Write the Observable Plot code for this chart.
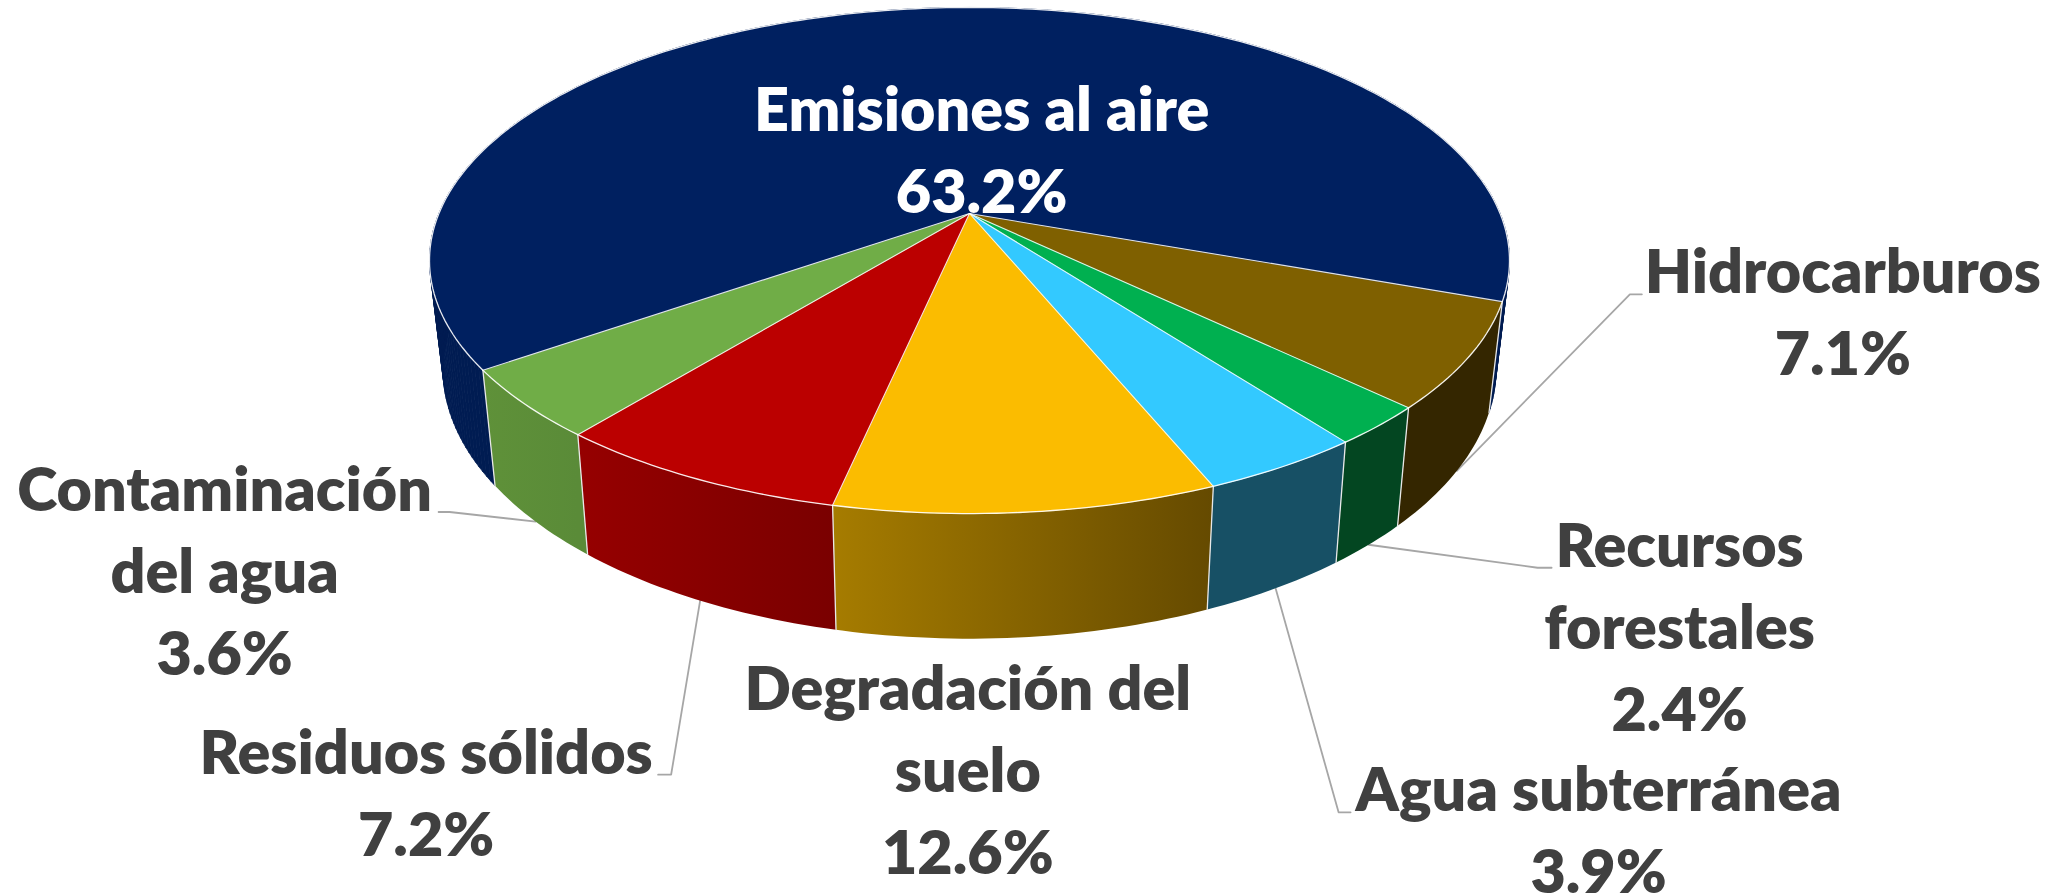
<!DOCTYPE html>
<html lang="es">
<head>
<meta charset="utf-8">
<style>html,body{margin:0;padding:0;background:#fff;overflow:hidden}svg{display:block}</style>
<script src="https://cdn.jsdelivr.net/npm/d3@7"></script>
<script src="https://cdn.jsdelivr.net/npm/@observablehq/plot@0.6"></script>
</head>
<body>
<div id="chart"></div>
<script>
// Category order runs clockwise from the right-hand edge of the dark-blue slice
const categories = ["Hidrocarburos", "Recursos forestales", "Agua subterránea", "Degradación del suelo", "Residuos sólidos", "Contaminación del agua", "Emisiones al aire"];
// Printed percentages
const printedValues = [7.1, 2.4, 3.9, 12.6, 7.2, 3.6, 63.2];
// Shares as actually drawn (the yellow slice is drawn narrower than printed)
const drawnShares = [6.7, 2.5, 4.1, 9.6, 7.5, 4.4, 65.2];
const labelLines = [["Hidrocarburos"], ["Recursos", "forestales"], ["Agua subterránea"], ["Degradación del", "suelo"], ["Residuos sólidos"], ["Contaminación", "del agua"], ["Emisiones al aire"]];
const topColors = ["#7f6000", "#00b050", "#33c9ff", "#fbbc00", "#bb0000", "#70ad47", "#002060"];
const wallRight = ["#342600", "#034621", "#175065", "#654a00", "#7a0000", "#5a8b38", "#001c52"];
const wallLeft = ["#342600", "#034621", "#175065", "#a67c00", "#960000", "#5f9139", "#001c52"];

// Layout options (pie perspective and label placement relative to each slice's rim)
const W = 2062, H = 896;
const startAngle = 19.75;
const pie = {cx: 969, cy: 213, a: 530.6, b: 244.3, k: 0.1858, sx: 0.975, sy: 1.067, cyBottom: 318};
const fontSize = 61, lineStep = 82;
const labelOffset = [[386, -177.5], [311, 22], [323, 223], [-58, 73], [-274, 173], [-311, -10.6], [70, 31]];
// Leader elbow: distances from the label's centre along its first baseline (far end, near end)
const stub = [[-201, -213], [-128, -142], [-248, -260], null, [232, 245], [214, 225], null];

const rad = d => d * Math.PI / 180;
function rim(theta, bottom) {
  const s = Math.sin(rad(theta)), c = Math.cos(rad(theta)), den = 1 - pie.k * s;
  const u = pie.a * c / den, v = pie.b * s / den;
  return bottom ? [pie.cx + pie.sx * u, pie.cyBottom + pie.sy * v] : [pie.cx + u, pie.cy + v];
}

let acc = startAngle;
const slices = categories.map((name, i) => {
  const a0 = acc, a1 = acc + drawnShares[i] * 3.6;
  acc = a1;
  return {name, i, a0, a1, mid: (a0 + a1) / 2};
});
const arc = (a0, a1) => d3.range(0, Math.ceil(a1 - a0) + 1).map(j => a0 + Math.min(j, a1 - a0));

const wallPoints = [], backWallPoints = [], topPoints = [], seamPoints = [], radialPoints = [], rimPoints = [];
for (const s of slices) {
  const steps = arc(s.a0, s.a1);
  const paint = `url(#wall-${s.i})`;
  if (s.i === 6) {
    // The large slice wraps round the silhouette: one solid-coloured quad per step
    for (let j = 0; j < steps.length - 1; ++j) {
      for (const [t, b] of [[steps[j], false], [steps[j + 1], false], [steps[j + 1], true], [steps[j], true]]) {
        const [x, y] = rim(t, b);
        backWallPoints.push({x, y, id: j});
      }
    }
  } else {
    // One closed outline per front wall: along the top rim, then back along the bottom rim
    for (const t of steps) {
      const [x, y] = rim(t, false);
      wallPoints.push({x, y, id: s.i, paint});
    }
    for (const t of [...steps].reverse()) {
      const [x, y] = rim(t, true);
      wallPoints.push({x, y, id: s.i, paint});
    }
  }
  topPoints.push({x: pie.cx, y: pie.cy, id: s.i, color: topColors[s.i]});
  for (const t of steps) {
    const [x, y] = rim(t, false);
    topPoints.push({x, y, id: s.i, color: topColors[s.i]});
    rimPoints.push({x, y, id: s.i});
  }
  for (const b of [false, true]) {
    const [x, y] = rim(s.a0, b);
    seamPoints.push({x, y, id: s.i});
  }
  const [rx, ry] = rim(s.a0, false);
  radialPoints.push({x: pie.cx, y: pie.cy, id: s.i}, {x: rx, y: ry, id: s.i});
}

const labels = slices.map(s => {
  const [x0, y0] = rim(s.mid, true), [dx, dy] = labelOffset[s.i];
  return {
    x: x0 + dx,
    baseline: y0 + dy,
    y: y0 + dy - 0.71 * lineStep,
    text: [...labelLines[s.i], `${printedValues[s.i].toFixed(1)}%`].join("\n"),
    color: s.i === 6 ? "#ffffff" : "#404040"
  };
});

const leaders = [];
for (const s of slices) {
  if (!stub[s.i]) continue;
  const l = labels[s.i], [xr, yr] = rim(s.mid, true);
  leaders.push({x: xr, y: yr, id: s.i});
  leaders.push({x: l.x + stub[s.i][1], y: l.baseline + 1, id: s.i});
  leaders.push({x: l.x + stub[s.i][0], y: l.baseline + 1, id: s.i});
}

// Horizontal shading of the outer wall of each slice, spanned over the slice's width on screen
const wallGradients = (index, {x}) => {
  const defs = d3.create("svg:defs");
  for (const s of slices) {
    const xs = arc(s.a0, s.a1).map(t => rim(t, false)[0]);
    const g = defs.append("linearGradient").attr("id", `wall-${s.i}`)
      .attr("gradientUnits", "userSpaceOnUse")
      .attr("x1", x(d3.min(xs))).attr("x2", x(d3.max(xs))).attr("y1", 0).attr("y2", 0);
    g.append("stop").attr("offset", 0).attr("stop-color", wallLeft[s.i]);
    g.append("stop").attr("offset", 1).attr("stop-color", wallRight[s.i]);
  }
  return defs.node();
};

const plot = Plot.plot({
  width: W, height: H,
  margin: 0,
  style: {background: "#ffffff", overflow: "hidden"},
  x: {domain: [0, W], range: [0, W], axis: null},
  y: {domain: [0, H], range: [0, H], axis: null},
  color: {type: "identity"},
  marks: [
    wallGradients,
    Plot.line(leaders, {x: "x", y: "y", z: "id", stroke: "#a6a6a6", strokeWidth: 1.8, curve: "linear"}),
    Plot.line(backWallPoints, {x: "x", y: "y", z: "id", fill: wallLeft[6], stroke: wallLeft[6], strokeWidth: 0.8, curve: "linear-closed"}),
    Plot.line(wallPoints, {x: "x", y: "y", z: "id", fill: "paint", stroke: null, curve: "linear-closed"}),
    Plot.line(seamPoints, {x: "x", y: "y", z: "id", stroke: "#e8e8e8", strokeWidth: 1.3, curve: "linear"}),
    Plot.line(topPoints, {x: "x", y: "y", z: "id", fill: "color", stroke: "color", strokeWidth: 0.5, curve: "linear-closed"}),
    Plot.line(rimPoints, {x: "x", y: "y", z: "id", stroke: "#ffffff", strokeOpacity: 0.9, strokeWidth: 1.3, curve: "linear"}),
    Plot.line(radialPoints, {x: "x", y: "y", z: "id", stroke: "#ffffff", strokeOpacity: 0.85, strokeWidth: 1.1, curve: "linear"}),
    Plot.text(labels, {x: "x", y: "y", text: "text", fill: "color", fontSize, fontWeight: 800, fontFamily: "Lato, 'Noto Sans', sans-serif", textAnchor: "middle", lineAnchor: "top", lineHeight: lineStep / fontSize})
  ]
});
document.getElementById("chart").appendChild(plot);
</script>
</body>
</html>
